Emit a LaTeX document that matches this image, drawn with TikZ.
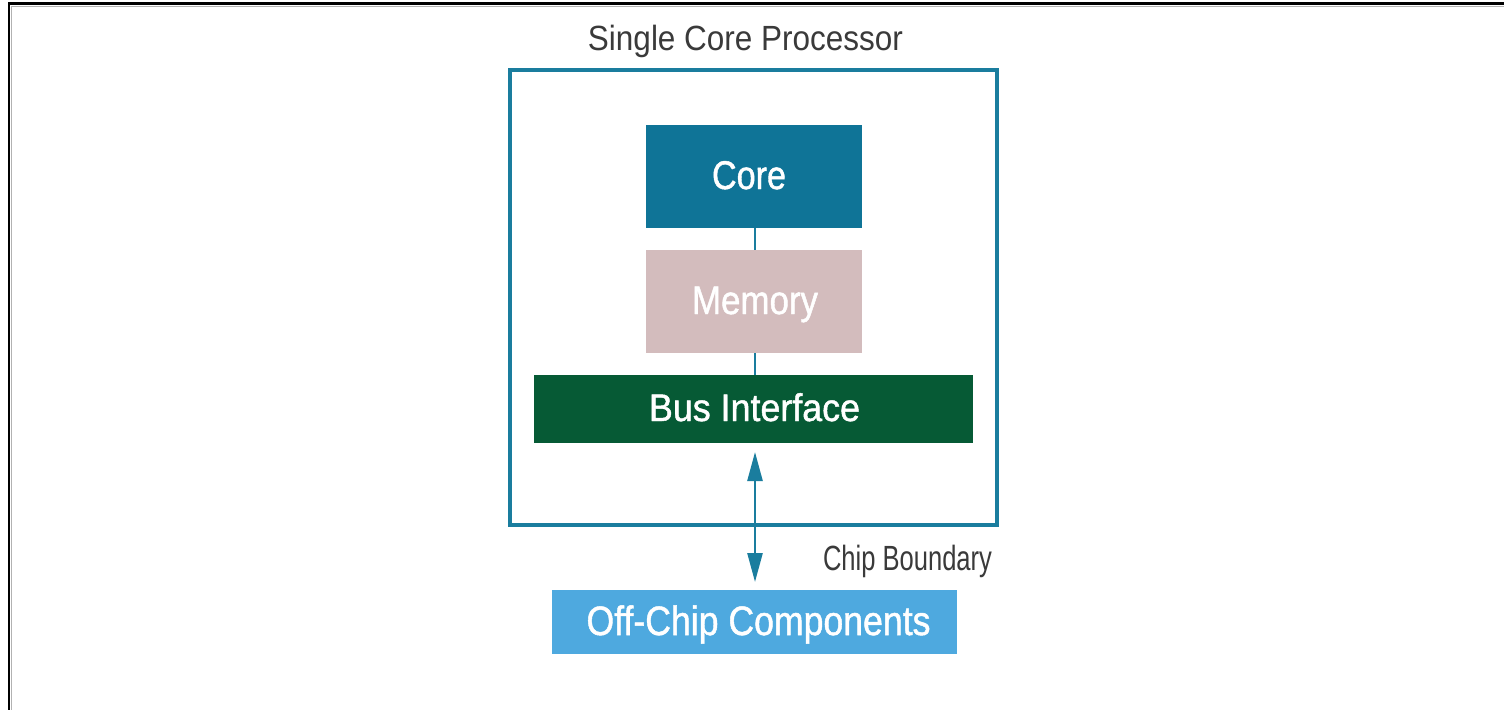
\documentclass[tikz,border=0pt]{standalone}
\usepackage{fontspec}
\setmainfont{Liberation Sans}
\newfontfamily\boxfont{Liberation Sans}[FakeBold=1.2]
\usepackage{graphicx}
\usetikzlibrary{arrows.meta}

\definecolor{chipline}{HTML}{1A7D9E}
\definecolor{corefill}{HTML}{0F7497}
\definecolor{memfill}{HTML}{D3BCBD}
\definecolor{busfill}{HTML}{065A35}
\definecolor{offfill}{HTML}{4EA9DF}
\definecolor{labelgray}{HTML}{3A3A3A}

% width-fitted label: #1 font size, #2 width, #3 text
\newcommand{\fitlabel}[3]{\fontsize{#1}{#1}\selectfont\resizebox{#2}{\height}{#3}}

\tikzset{
  wlabel/.style={anchor=base, inner sep=0pt, text=white, font=\boxfont},
  glabel/.style={anchor=base, inner sep=0pt, text=labelgray},
  link/.style={draw=chipline, line width=2.5pt},
  bus/.style={draw=chipline, line width=2.5pt,
    {Triangle[length=29pt,width=15pt]}-{Triangle[length=29pt,width=15pt]},
    shorten <=9pt, shorten >=8pt},
}

\begin{document}
\begin{tikzpicture}[x=1pt, y=-1pt]
  \useasboundingbox (0,0) rectangle (1504,710);
  \fill[white] (0,0) rectangle (1504,710);

  % frame edges
  \draw[gray!60, line width=1.5pt] (11,6.5) -- (1504,6.5);
  \draw[gray!60, line width=1.5pt] (11.5,6) -- (11.5,710);
  \draw[black, line width=2.6pt] (9,3.5) -- (1504,3.5);
  \draw[black, line width=2.6pt] (9,2.2) -- (9,710);

  % chip outline
  \draw[chipline, line width=3.5pt] (510,70) rectangle (997,525);
  \node[glabel] (title) at (745.5,50) {\fitlabel{35pt}{315pt}{Single Core Processor}};

  % blocks
  \path[fill=corefill] (646,125) rectangle (862,228);
  \coordinate (coreB) at (755,228);
  \path[fill=memfill] (646,250) rectangle (862,353);
  \coordinate (memT) at (755,250);
  \coordinate (memB) at (755,353);
  \path[fill=busfill] (534,375) rectangle (973,443);
  \coordinate (busT) at (755,375);
  \coordinate (busB) at (755,443);
  \path[fill=offfill] (552,590) rectangle (957,654);
  \coordinate (offT) at (755,590);

  \node[wlabel] (core) at (749,189) {\fitlabel{40pt}{74pt}{Core}};
  \node[wlabel] (mem) at (755,314) {\fitlabel{40pt}{126pt}{Memory}};
  \node[wlabel] (busl) at (754.5,421) {\fitlabel{38.5pt}{211pt}{Bus Interface}};
  \node[wlabel] (off) at (758.5,635) {\fitlabel{41pt}{344pt}{Off-Chip Components}};

  % connections
  \draw[link] (coreB) -- (memT);
  \draw[link] (memB) -- (busT);
  \draw[bus] (busB) -- (offT);

  \node[glabel] (cb) at (907.5,570) {\fitlabel{35pt}{169pt}{Chip Boundary}};
\end{tikzpicture}
\end{document}
